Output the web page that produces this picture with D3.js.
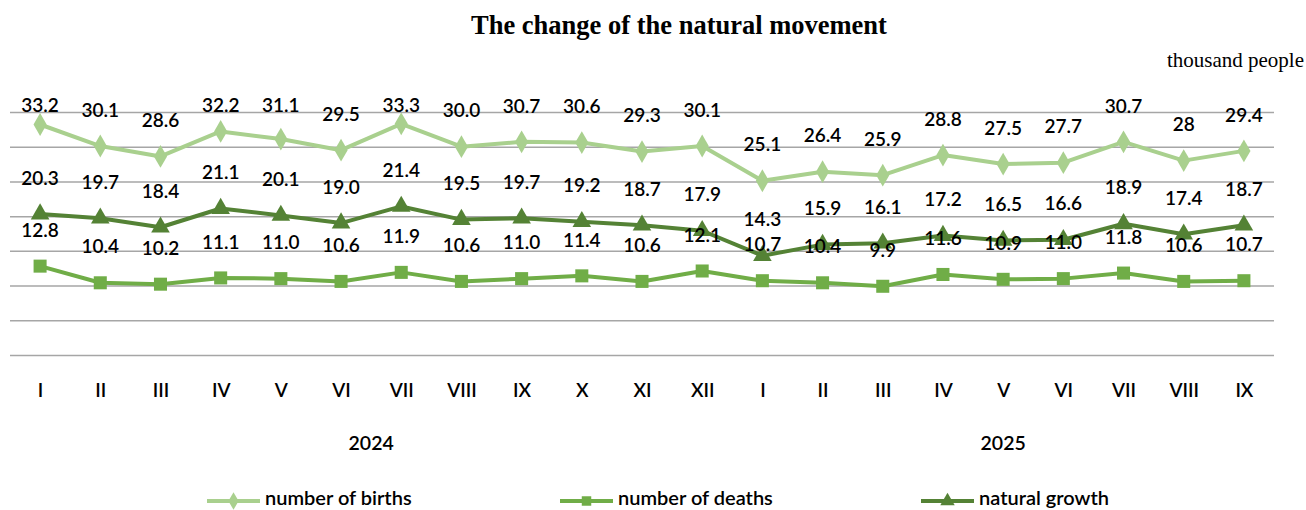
<!DOCTYPE html>
<html>
<head>
<meta charset="utf-8">
<script src="https://cdn.jsdelivr.net/npm/d3@7"></script>
<style>
  body { margin: 0; background: #fff; }
  svg { display: block; }
</style>
</head>
<body>
<div id="chart"></div>
<script>
// categories
var months = ["I","II","III","IV","V","VI","VII","VIII","IX","X","XI","XII",
              "I","II","III","IV","V","VI","VII","VIII","IX"];
var years = ["2024","2024","2024","2024","2024","2024","2024","2024","2024","2024","2024","2024",
             "2025","2025","2025","2025","2025","2025","2025","2025","2025"];

// series, thousand people
var births = [33.2, 30.1, 28.6, 32.2, 31.1, 29.5, 33.3, 30.0, 30.7, 30.6, 29.3, 30.1,
              25.1, 26.4, 25.9, 28.8, 27.5, 27.7, 30.7, 28, 29.4];
var deaths = [12.8, 10.4, 10.2, 11.1, 11.0, 10.6, 11.9, 10.6, 11.0, 11.4, 10.6, 12.1,
              10.7, 10.4, 9.9, 11.6, 10.9, 11.0, 11.8, 10.6, 10.7];
var growth = [20.3, 19.7, 18.4, 21.1, 20.1, 19.0, 21.4, 19.5, 19.7, 19.2, 18.7, 17.9,
              14.3, 15.9, 16.1, 17.2, 16.5, 16.6, 18.9, 17.4, 18.7];
// labels shown as in the source (one value has no decimal)
var birthsText = ["33.2","30.1","28.6","32.2","31.1","29.5","33.3","30.0","30.7","30.6","29.3","30.1",
                  "25.1","26.4","25.9","28.8","27.5","27.7","30.7","28","29.4"];

var seriesNames = ["number of births", "number of deaths", "natural growth"];
var yTicks = [0, 5, 10, 15, 20, 25, 30, 35];

(function () {
  var width = 1306, height = 510;
  var left = 10, right = 1274, top = 112, bottom = 355;
  var labelFont = "Lato, 'Open Sans', sans-serif";

  var svg = d3.select("#chart")
    .append("svg")
    .attr("width", width)
    .attr("height", height);

  var idx = d3.range(months.length);

  //scales
  var x = d3.scalePoint()
    .domain(idx)
    .range([left, right])
    .padding(0.5);

  var y = d3.scaleLinear()
    .domain([0, 35])
    .range([bottom, top]);

  //gridlines
  var grid = svg.append("g")
    .attr("transform", "translate(" + left + ",0)")
    .call(d3.axisLeft(y).tickValues(yTicks).tickSize(-(right - left)).tickFormat(""));
  grid.select(".domain").remove();
  grid.selectAll(".tick line")
    .attr("stroke", "#a6a6a6")
    .attr("stroke-width", 1.5);

  //month axis
  var xAxis = svg.append("g")
    .attr("transform", "translate(0," + bottom + ")")
    .call(d3.axisBottom(x).tickSize(0).tickFormat(function (i) { return months[i]; }));
  xAxis.select(".domain").remove();
  xAxis.selectAll("text")
    .attr("y", 35)
    .attr("dy", "0.35em")
    .attr("font-family", labelFont)
    .attr("font-size", 19)
    .attr("font-weight", 600)
    .attr("fill", "#000");

  //years
  var yearGroups = d3.groups(idx, function (i) { return years[i]; });
  svg.selectAll(".year")
    .data(yearGroups)
    .enter().append("text")
    .attr("class", "year")
    .attr("x", function (d) { return (x(d[1][0]) + x(d[1][d[1].length - 1])) / 2; })
    .attr("y", 443)
    .attr("dy", "0.35em")
    .attr("text-anchor", "middle")
    .attr("font-family", labelFont)
    .attr("font-size", 19.5)
    .attr("font-weight", 600)
    .text(function (d) { return d[0]; });

  //title
  svg.append("text")
    .attr("x", 679)
    .attr("y", 34)
    .attr("text-anchor", "middle")
    .attr("font-family", "'Liberation Serif', 'Times New Roman', serif")
    .attr("font-weight", "bold")
    .attr("font-size", 26.5)
    .text("The change of the natural movement");

  svg.append("text")
    .attr("x", 1304)
    .attr("y", 67)
    .attr("text-anchor", "end")
    .attr("font-family", "'Liberation Serif', 'Times New Roman', serif")
    .attr("font-size", 21)
    .text("thousand people");

  var series = [
    { name: seriesNames[0], values: births, text: birthsText, color: "#a9d08e", shape: d3.symbolDiamond },
    { name: seriesNames[2], values: growth, color: "#548235", shape: d3.symbolTriangle },
    { name: seriesNames[1], values: deaths, color: "#70ad47", shape: d3.symbolSquare }
  ];

  var line = d3.line()
    .x(function (d, i) { return x(i); })
    .y(function (d) { return y(d); });

  series.forEach(function (s) {
    var g = svg.append("g");

    g.append("path")
      .datum(s.values)
      .attr("fill", "none")
      .attr("stroke", s.color)
      .attr("stroke-width", 4)
      .attr("stroke-linejoin", "round")
      .attr("d", line);

    g.selectAll(".marker")
      .data(s.values)
      .enter().append("path")
      .attr("class", "marker")
      .attr("transform", function (d, i) { return "translate(" + x(i) + "," + y(d) + ")"; })
      .attr("d", d3.symbol().type(s.shape).size(s.shape === d3.symbolSquare ? 170 : 150))
      .attr("fill", s.color);
  });

  //data labels, drawn on top of lines
  series.forEach(function (s) {
    svg.append("g").selectAll(".label")
      .data(s.values)
      .enter().append("text")
      .attr("x", function (d, i) { return x(i); })
      .attr("y", function (d) { return Math.max(y(d) - 36, top - 7); })
      .attr("dy", "0.35em")
      .attr("text-anchor", "middle")
      .attr("font-family", labelFont)
      .attr("font-size", 19)
      .attr("font-weight", 600)
      .attr("fill", "#000")
      .text(function (d, i) { return s.text ? s.text[i] : d3.format(".1f")(d); });
  });

  //legend (nudged up a little so the text stays inside the picture)
  var legendItems = [
    { name: seriesNames[0], color: "#a9d08e", shape: d3.symbolDiamond, x: 207 },
    { name: seriesNames[1], color: "#70ad47", shape: d3.symbolSquare, x: 560 },
    { name: seriesNames[2], color: "#548235", shape: d3.symbolTriangle, x: 921 }
  ];
  var legend = svg.selectAll(".legend")
    .data(legendItems)
    .enter().append("g")
    .attr("class", "legend")
    .attr("transform", function (d) { return "translate(" + d.x + ",501)"; });
  legend.append("line")
    .attr("x1", 0).attr("x2", 53)
    .attr("stroke", function (d) { return d.color; })
    .attr("stroke-width", 4);
  legend.append("path")
    .attr("transform", "translate(26.5,0)")
    .attr("d", function (d) { return d3.symbol().type(d.shape).size(90)(); })
    .attr("fill", function (d) { return d.color; });
  legend.append("text")
    .attr("x", 58)
    .attr("y", -3)
    .attr("dy", "0.35em")
    .attr("font-family", labelFont)
    .attr("font-size", 20)
    .attr("font-weight", 600)
    .text(function (d) { return d.name; });
})();
</script>
</body>
</html>
